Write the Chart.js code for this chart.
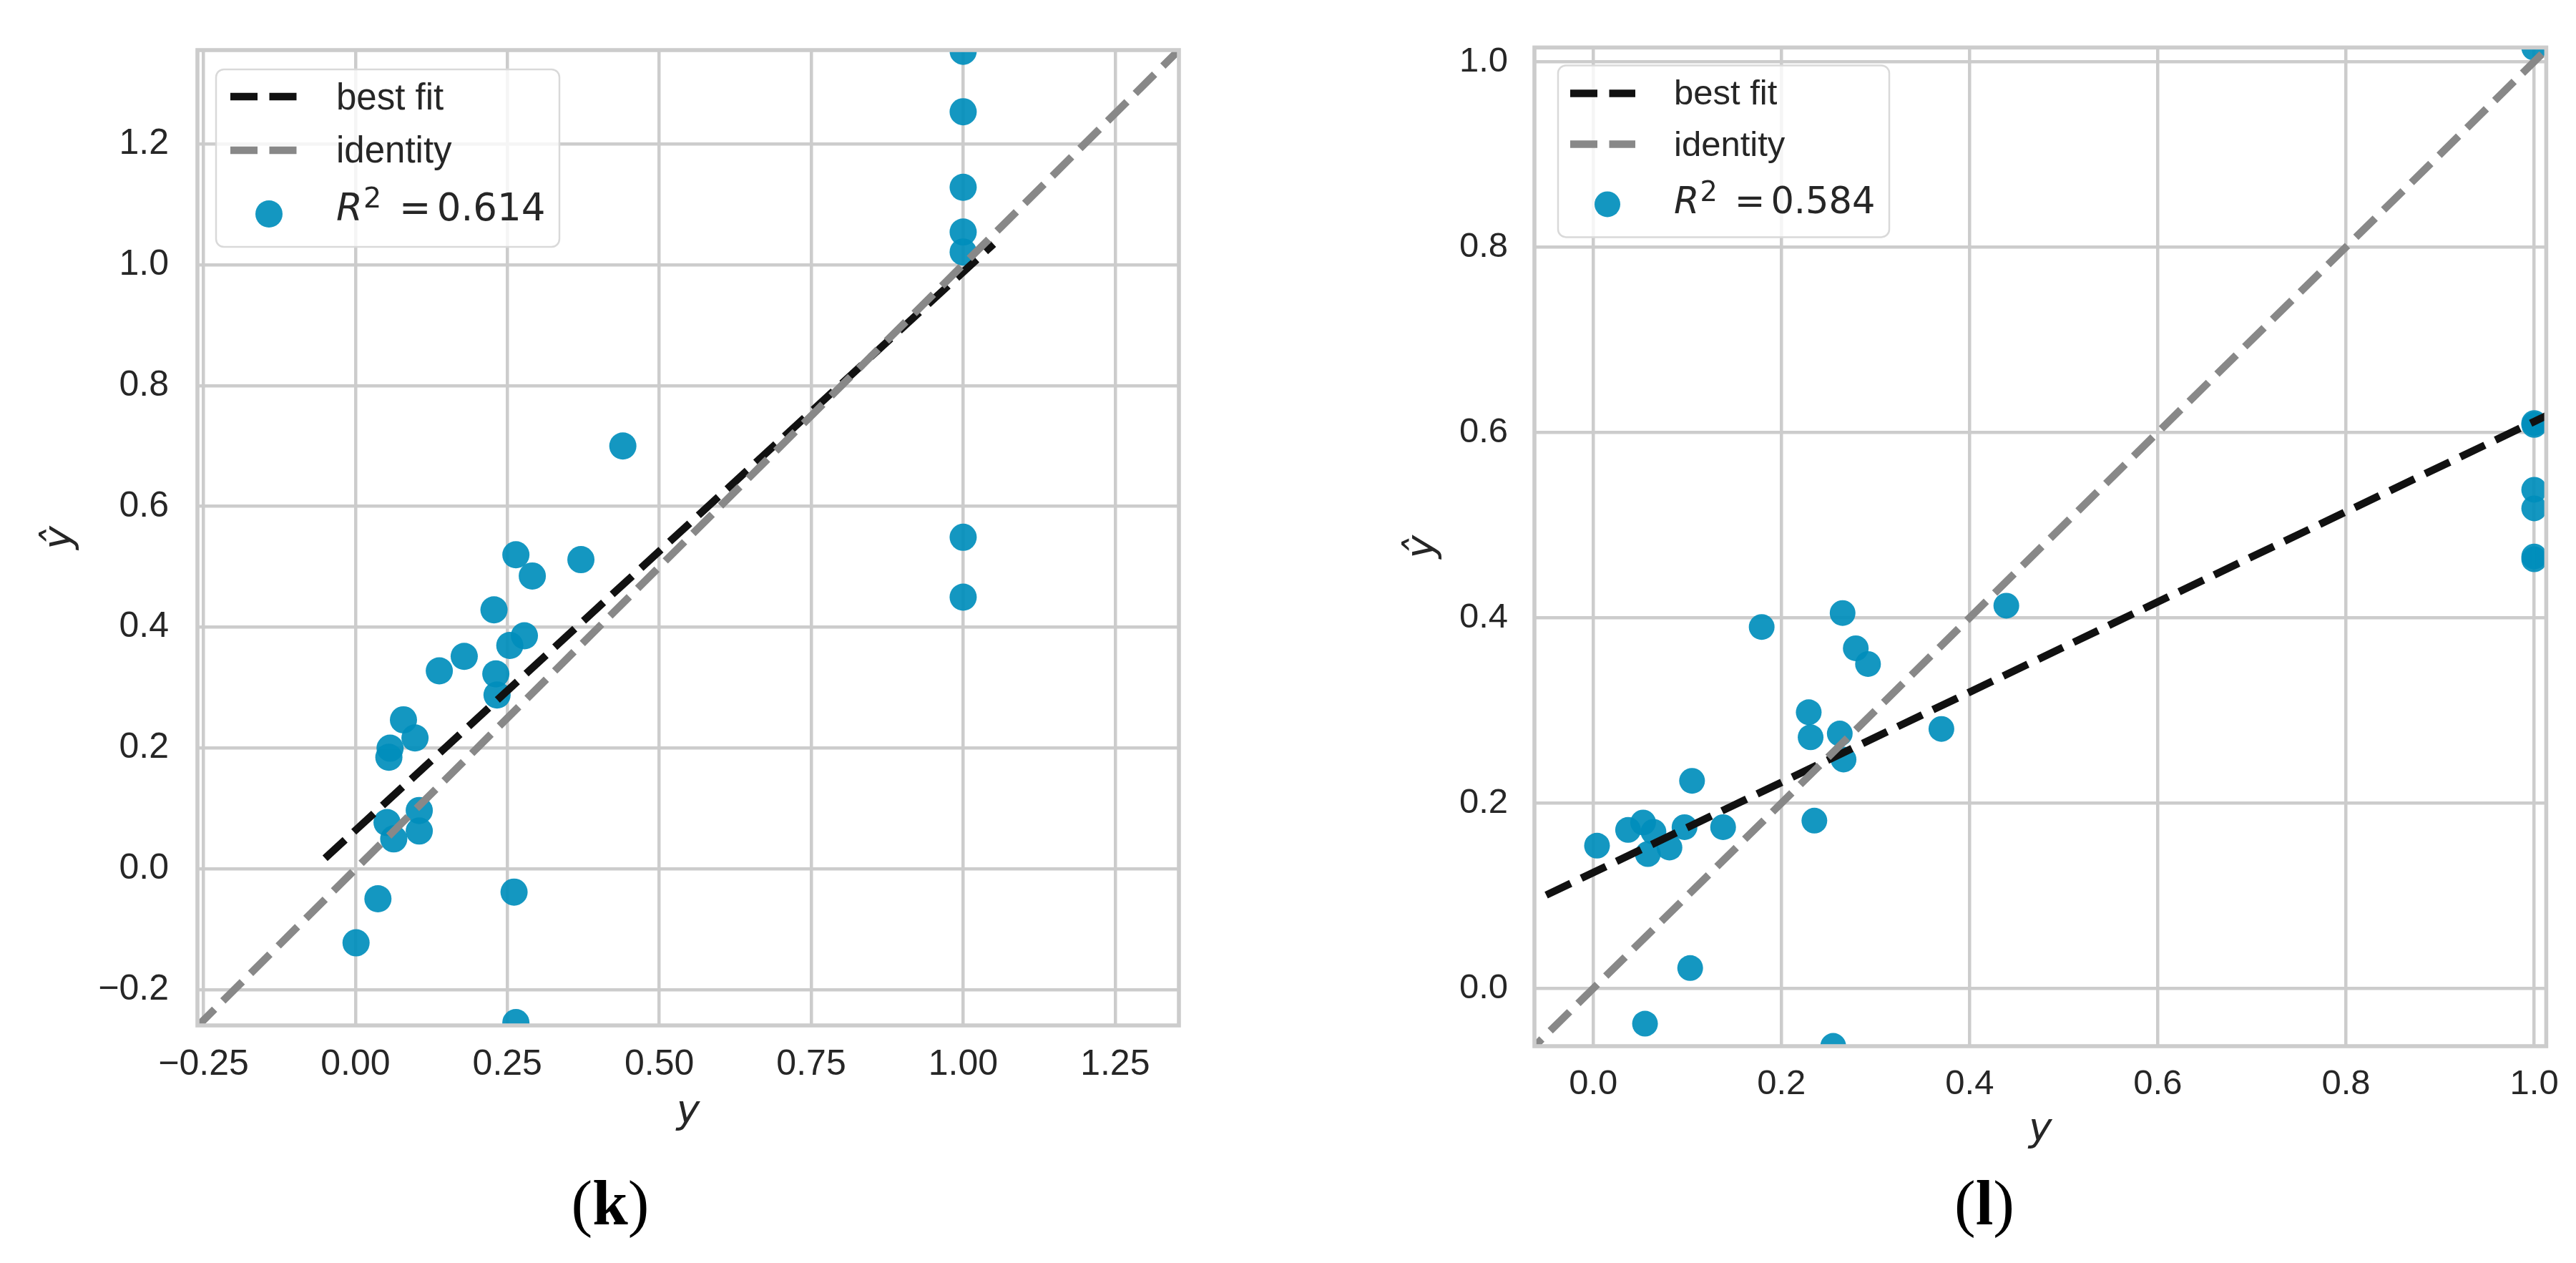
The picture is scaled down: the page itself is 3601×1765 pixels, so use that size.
<!DOCTYPE html>
<html><head><meta charset="utf-8">
<script src="https://cdn.jsdelivr.net/npm/chart.js@4.4.1/dist/chart.umd.min.js"></script>
<style>
html,body{margin:0;padding:0;background:#fff;}
#wrap{position:relative;width:3601px;height:1765px;overflow:hidden;background:#fff;}
canvas{position:absolute;top:0;}
.cap{position:absolute;font-family:'Liberation Serif','Times New Roman',serif;font-size:89px;line-height:89px;color:#000;transform:translateX(-50%);white-space:nowrap;}
</style></head><body>
<div id="wrap">
<canvas id="k" width="1800" height="1765" style="left:0"></canvas>
<canvas id="l" width="1801" height="1765" style="left:1800px"></canvas>
<div class="cap" style="left:853px;top:1637px">(<b>k</b>)</div>
<div class="cap" style="left:2774px;top:1637px">(<b>l</b>)</div>
</div>
<script>
// ---------- data: panel (k) ----------
const kActual = [1.0, 1.0, 1.0, 1.0, 1.0, 1.0, 1.0,
  0.440, 0.264, 0.291, 0.371, 0.228, 0.278, 0.254, 0.179, 0.138, 0.231, 0.233,
  0.079, 0.098, 0.057, 0.055, 0.105, 0.052, 0.105, 0.063, 0.261, 0.037, 0.001, 0.264];
const kPredicted = [1.353, 1.253, 1.128, 1.054, 1.021, 0.549, 0.450,
  0.700, 0.520, 0.485, 0.512, 0.429, 0.386, 0.370, 0.352, 0.328, 0.323, 0.288,
  0.247, 0.217, 0.200, 0.185, 0.097, 0.077, 0.063, 0.050, -0.038, -0.049, -0.122, -0.254];
const kFitX = [-0.05, 1.05];
const kFitY = [0.018, 1.034];
const kR2 = '0.614';
const kXTicks = [-0.25, 0, 0.25, 0.5, 0.75, 1.0, 1.25];
const kXTickLabels = ['\u22120.25', '0.00', '0.25', '0.50', '0.75', '1.00', '1.25'];
const kYTicks = [-0.2, 0, 0.2, 0.4, 0.6, 0.8, 1.0, 1.2];
const kYTickLabels = ['\u22120.2', '0.0', '0.2', '0.4', '0.6', '0.8', '1.0', '1.2'];
const kXRange = [-0.26, 1.355];
const kYRange = [-0.2586, 1.355];

// ---------- data: panel (l) ----------
const lActual = [1.0, 1.0, 1.0, 1.0, 1.0, 1.0, 1.0,
  0.439, 0.265, 0.179, 0.279, 0.292, 0.229, 0.370, 0.262, 0.231, 0.266, 0.105,
  0.235, 0.053, 0.037, 0.064, 0.097, 0.138, 0.004, 0.058, 0.081, 0.103, 0.055, 0.255];
const lPredicted = [1.015, 0.610, 0.608, 0.538, 0.518, 0.466, 0.463,
  0.413, 0.405, 0.390, 0.367, 0.350, 0.298, 0.280, 0.275, 0.271, 0.247, 0.224,
  0.181, 0.179, 0.171, 0.169, 0.174, 0.174, 0.154, 0.145, 0.152, 0.022, -0.038, -0.062];
const lFitX = [-0.05, 1.05];
const lFitY = [0.1007, 0.636];
const lR2 = '0.584';
const lXTicks = [0, 0.2, 0.4, 0.6, 0.8, 1.0];
const lXTickLabels = ['0.0', '0.2', '0.4', '0.6', '0.8', '1.0'];
const lYTicks = [0, 0.2, 0.4, 0.6, 0.8, 1.0];
const lYTickLabels = ['0.0', '0.2', '0.4', '0.6', '0.8', '1.0'];
const lXRange = [-0.0625, 1.0128];
const lYRange = [-0.0623, 1.0152];

const identityEnds = [-0.4, 1.5];
const legendLabels = ['best fit', 'identity'];

const POINT_COLOR = 'rgba(0,142,188,0.92)';
const TEXT_COLOR = '#262626';

function toPoints(xs, ys) { return xs.map((x, i) => ({x: x, y: ys[i]})); }

function framePlugin(c) {
  return {
    id: 'frameLegend',
    afterDatasetsDraw(chart) {
      const ctx = chart.ctx, a = chart.chartArea;
      ctx.save();
      ctx.strokeStyle = '#cccccc';
      ctx.lineWidth = 5.6;
      ctx.strokeRect(a.left, a.top, a.right - a.left, a.bottom - a.top);
      // legend box
      const bx = a.left + c.box[0], by = a.top + c.box[1], bw = c.box[2], bh = c.box[3], r = 11;
      ctx.beginPath();
      ctx.moveTo(bx + r, by);
      ctx.arcTo(bx + bw, by, bx + bw, by + bh, r);
      ctx.arcTo(bx + bw, by + bh, bx, by + bh, r);
      ctx.arcTo(bx, by + bh, bx, by, r);
      ctx.arcTo(bx, by, bx + bw, by, r);
      ctx.closePath();
      ctx.fillStyle = 'rgba(255,255,255,0.8)';
      ctx.fill();
      ctx.strokeStyle = '#d9d9d9';
      ctx.lineWidth = 2.5;
      ctx.stroke();
      // line samples
      ctx.lineWidth = 10.5;
      ctx.setLineDash([38, 16.5]);
      ctx.lineCap = 'butt';
      const cols = ['#111111', '#888888'];
      for (let i = 0; i < 2; i++) {
        ctx.strokeStyle = cols[i];
        ctx.beginPath();
        ctx.moveTo(a.left + c.line[0], a.top + c.rows[i]);
        ctx.lineTo(a.left + c.line[1], a.top + c.rows[i]);
        ctx.stroke();
      }
      ctx.setLineDash([]);
      // marker
      ctx.fillStyle = POINT_COLOR;
      ctx.beginPath();
      ctx.arc(a.left + c.marker[0], a.top + c.marker[1], c.r, 0, Math.PI * 2);
      ctx.fill();
      // text
      const tx = a.left + c.tx;
      ctx.fillStyle = TEXT_COLOR;
      ctx.textBaseline = 'alphabetic';
      ctx.textAlign = 'left';
      ctx.font = c.fs + 'px "Liberation Sans", Arial, sans-serif';
      ctx.fillText(legendLabels[0], tx, a.top + c.base[0]);
      ctx.fillText(legendLabels[1], tx, a.top + c.base[1]);
      const b3 = a.top + c.base[2], ms = c.ms;
      ctx.font = 'italic ' + ms + 'px "DejaVu Sans"';
      ctx.fillText('R', tx, b3);
      const wR = ctx.measureText('R').width;
      ctx.font = (ms * 0.75) + 'px "DejaVu Sans"';
      ctx.fillText('2', tx + wR + 0.02 * ms, b3 - 0.34 * ms);
      ctx.font = ms + 'px "DejaVu Sans"';
      ctx.fillText('=', tx + 1.66 * ms, b3);
      ctx.fillText(c.r2, tx + 2.655 * ms, b3);
      ctx.restore();
    }
  };
}

function makeChart(id, o) {
  const lineDs = (xs, ys, color) => ({
    data: toPoints(xs, ys), showLine: true, borderColor: color, borderWidth: 10.5,
    borderDash: [38, 16.5], pointRadius: 0, pointHoverRadius: 0, fill: false, clip: 0
  });
  const ident = lineDs(identityEnds, identityEnds, '#888888'); ident.order = 1;
  const fit = lineDs(o.fitX, o.fitY, '#111111'); fit.order = 2;
  const pts = {
    data: toPoints(o.xs, o.ys), backgroundColor: POINT_COLOR, borderWidth: 0,
    pointRadius: o.r, pointHoverRadius: o.r, order: 3, clip: 0
  };
  return new Chart(document.getElementById(id), {
    type: 'scatter',
    data: {datasets: [ident, fit, pts]},
    options: {
      responsive: false, animation: false, devicePixelRatio: 1, events: [],
      layout: {padding: {left: 0, top: o.padTop, right: o.padRight, bottom: o.padBottom}},
      plugins: {legend: {display: false}, tooltip: {enabled: false}},
      scales: {
        x: {
          type: 'linear', position: 'bottom', min: o.xr[0], max: o.xr[1],
          afterBuildTicks: s => { s.ticks = o.xt.map(v => ({value: v})); },
          afterFit: s => { s.height = o.xH; },
          ticks: {callback: (v, i) => o.xl[i], font: {family: '"Liberation Sans", Arial', size: o.fs},
                  color: TEXT_COLOR, padding: o.xpad, maxRotation: 0, minRotation: 0, autoSkip: false},
          grid: {color: '#cccccc', lineWidth: 4.5, drawTicks: false},
          border: {display: false},
          title: {display: true, text: 'y', font: {family: 'DejaVu Sans', style: 'italic', size: 55},
                  color: TEXT_COLOR, padding: {top: 0, bottom: 0}}
        },
        y: {
          type: 'linear', position: 'left', min: o.yr[0], max: o.yr[1],
          afterBuildTicks: s => { s.ticks = o.yt.map(v => ({value: v})); },
          afterFit: s => { s.width = o.yW; },
          ticks: {callback: (v, i) => o.yl[i], font: {family: '"Liberation Sans", Arial', size: o.fs},
                  color: TEXT_COLOR, padding: o.ypad, autoSkip: false},
          grid: {color: '#cccccc', lineWidth: 4.5, drawTicks: false},
          border: {display: false},
          title: {display: true, text: '\u0177', font: {family: 'DejaVu Sans', style: 'italic', size: 55},
                  color: TEXT_COLOR, padding: {top: o.ytp, bottom: 0}}
        }
      }
    },
    plugins: [framePlugin(o.legend)]
  });
}

makeChart('k', {
  xs: kActual, ys: kPredicted, fitX: kFitX, fitY: kFitY,
  xr: kXRange, yr: kYRange, xt: kXTicks, xl: kXTickLabels, yt: kYTicks, yl: kYTickLabels,
  r: 19, fs: 50, padTop: 60, padRight: 152, padBottom: 177, xH: 155, yW: 276,
  xpad: 25, ypad: 40, ytp: 52,
  legend: {box: [26, 27, 480, 248], line: [46, 140], rows: [65, 140], marker: [100, 229], r: 19,
           tx: 194, base: [83, 157, 238], fs: 51, ms: 53, r2: kR2}
});
makeChart('l', {
  xs: lActual, ys: lPredicted, fitX: lFitX, fitY: lFitY,
  xr: lXRange, yr: lYRange, xt: lXTicks, xl: lXTickLabels, yt: lYTicks, yl: lYTickLabels,
  r: 18, fs: 49, padTop: 43, padRight: 31, padBottom: 152, xH: 151, yW: 345,
  xpad: 24, ypad: 37, ytp: 157,
  legend: {box: [33, 25, 463, 240], line: [50, 141], rows: [64, 135], marker: [102, 219], r: 18,
           tx: 195, base: [80, 152, 232], fs: 49, ms: 51, r2: lR2}
});
</script>
</body></html>
